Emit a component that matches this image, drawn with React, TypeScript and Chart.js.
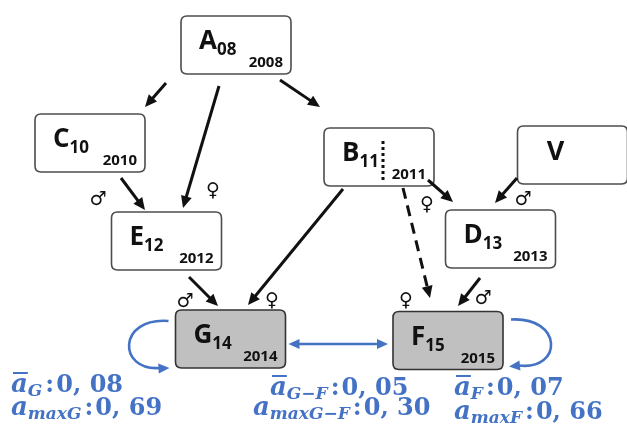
import React, { useEffect, useRef } from "react";
import { Chart, registerables } from "chart.js";

Chart.register(...registerables);

// ---- Data ----
const NODE_NAMES = ["A", "C", "E", "B", "V", "D", "G", "F"];
const NODE_SUBS = ["08", "10", "12", "11", "", "13", "14", "15"];
const NODE_YEARS = ["2008", "2010", "2012", "2011", "", "2013", "2014", "2015"];
const NODE_SHADED = [false, false, false, false, false, false, true, true];
// node centres in diagram units (x right, y down)
const NODE_X = [236, 90, 166.5, 379, 572.5, 500.5, 230.5, 448];
const NODE_Y = [45, 143, 241, 157, 155, 239, 339, 340.5];

// edges: x1, y1, x2 (tip), y2 (tip)
const EDGE_X1 = [166, 219, 280, 121, 343, 189, 428, 517, 403, 480];
const EDGE_Y1 = [83, 86, 80, 178, 189, 277, 180, 178, 188, 278];
const EDGE_X2 = [145, 183, 320, 145, 248, 218, 453, 495, 430, 458];
const EDGE_Y2 = [107, 208, 107, 210, 305, 306, 202, 203, 298, 306];
const EDGE_DASHED = [false, false, false, false, false, false, false, false, true, false];

const MALE_X = [98, 523, 185, 483];
const MALE_Y = [200, 200, 302, 299];
const FEMALE_X = [213, 427, 272, 406];
const FEMALE_Y = [191, 205, 301, 301];

const STAT_LABELS = ["G", "G\u2212F", "F"];
const MEAN_VALUES = ["0, 08", "0, 05", "0, 07"];
const MAX_VALUES = ["0, 69", "0, 30", "0, 66"];
const MEAN_X = [11, 270, 454];
const MEAN_Y = [392, 395, 395];
const MAX_X = [11, 253, 454];
const MAX_Y = [415, 415, 419];

const BLUE = "#4472c4";

function arrowHead(ctx: CanvasRenderingContext2D, tx: number, ty: number, dx: number, dy: number, len: number, w: number, color: string) {
  const d = Math.hypot(dx, dy) || 1;
  const ux = dx / d, uy = dy / d;
  const bx = tx - ux * len, by = ty - uy * len;
  ctx.save();
  ctx.setLineDash([]);
  ctx.fillStyle = color;
  ctx.beginPath();
  ctx.moveTo(tx, ty);
  ctx.lineTo(bx - uy * w / 2, by + ux * w / 2);
  ctx.lineTo(bx + uy * w / 2, by - ux * w / 2);
  ctx.closePath();
  ctx.fill();
  ctx.restore();
}

function arrow(ctx: CanvasRenderingContext2D, x1: number, y1: number, x2: number, y2: number, color: string, lw: number, dashed: boolean, len: number, w: number, both = false) {
  const dx = x2 - x1, dy = y2 - y1;
  const d = Math.hypot(dx, dy) || 1;
  const ux = dx / d, uy = dy / d;
  const sx = both ? x1 + ux * len * 0.8 : x1;
  const sy = both ? y1 + uy * len * 0.8 : y1;
  ctx.save();
  ctx.strokeStyle = color;
  ctx.lineWidth = lw;
  ctx.lineCap = "butt";
  ctx.setLineDash(dashed ? [11, 7] : []);
  ctx.beginPath();
  ctx.moveTo(sx, sy);
  ctx.lineTo(x2 - ux * len * 0.8, y2 - uy * len * 0.8);
  ctx.stroke();
  ctx.restore();
  arrowHead(ctx, x2, y2, dx, dy, len, w, color);
  if (both) arrowHead(ctx, x1, y1, -dx, -dy, len, w, color);
}

function roundRect(ctx: CanvasRenderingContext2D, x: number, y: number, w: number, h: number, r: number) {
  ctx.beginPath();
  ctx.moveTo(x + r, y);
  ctx.lineTo(x + w - r, y);
  ctx.quadraticCurveTo(x + w, y, x + w, y + r);
  ctx.lineTo(x + w, y + h - r);
  ctx.quadraticCurveTo(x + w, y + h, x + w - r, y + h);
  ctx.lineTo(x + r, y + h);
  ctx.quadraticCurveTo(x, y + h, x, y + h - r);
  ctx.lineTo(x, y + r);
  ctx.quadraticCurveTo(x, y, x + r, y);
  ctx.closePath();
}

const BOX_W = 110;
const BOX_H = 58;

const diagramPlugin = {
  id: "diagram",
  afterDatasetsDraw(chart: any) {
    const ctx: CanvasRenderingContext2D = chart.ctx;
    const xs = chart.scales.x, ys = chart.scales.y;
    const px = (v: number) => xs.getPixelForValue(v);
    const py = (v: number) => ys.getPixelForValue(v);
    const sx = Math.abs(px(1) - px(0));
    const sy = Math.abs(py(1) - py(0));

    // boxes
    NODE_NAMES.forEach((name, i) => {
      const w = BOX_W * sx, h = BOX_H * sy;
      const left = px(NODE_X[i]) - w / 2;
      const top = py(NODE_Y[i]) - h / 2;
      ctx.save();
      roundRect(ctx, left, top, w, h, 6);
      ctx.fillStyle = NODE_SHADED[i] ? "#c0c0c0" : "#ffffff";
      ctx.fill();
      ctx.strokeStyle = NODE_SHADED[i] ? "#333333" : "#4d4d4d";
      ctx.lineWidth = 1.6;
      ctx.stroke();
      ctx.fillStyle = "#111111";
      ctx.textBaseline = "alphabetic";
      ctx.textAlign = "left";
      if (name === "V") {
        ctx.font = 'bold 27px "Open Sans"';
        ctx.textAlign = "center";
        ctx.fillText(name, left + 38, top + 34);
      } else {
        ctx.font = 'bold 26px "Open Sans"';
        const lx = left + 18;
        const by = top + 33;
        ctx.fillText(name, lx, by);
        const lw = ctx.measureText(name).width;
        ctx.font = 'bold 17px "Open Sans"';
        ctx.fillText(NODE_SUBS[i], lx + lw, by + 6);
        ctx.font = 'bold 15px "Open Sans"';
        ctx.textAlign = "right";
        ctx.fillText(NODE_YEARS[i], left + w - 8, top + h - 7);
      }
      if (name === "B") {
        ctx.strokeStyle = "#111111";
        ctx.lineWidth = 3;
        ctx.setLineDash([3, 3]);
        ctx.beginPath();
        ctx.moveTo(left + 59, top + 13);
        ctx.lineTo(left + 59, top + 52);
        ctx.stroke();
      }
      ctx.restore();
    });

    // black edges
    EDGE_X1.forEach((_, i) => {
      arrow(ctx, px(EDGE_X1[i]), py(EDGE_Y1[i]), px(EDGE_X2[i]), py(EDGE_Y2[i]), "#111111", 3, EDGE_DASHED[i], 12, 11);
    });

    // sex symbols
    ctx.save();
    ctx.fillStyle = "#111111";
    ctx.font = 'bold 19px "DejaVu Sans"';
    ctx.textAlign = "center";
    ctx.textBaseline = "middle";
    MALE_X.forEach((mx, i) => ctx.fillText("\u2642", px(mx), py(MALE_Y[i])));
    FEMALE_X.forEach((fx, i) => ctx.fillText("\u2640", px(fx), py(FEMALE_Y[i])));
    ctx.restore();

    // blue arrows
    const gi = NODE_NAMES.indexOf("G"), fi = NODE_NAMES.indexOf("F");
    const gL = px(NODE_X[gi] - BOX_W / 2), gR = px(NODE_X[gi] + BOX_W / 2), gC = py(NODE_Y[gi]);
    const fL = px(NODE_X[fi] - BOX_W / 2), fR = px(NODE_X[fi] + BOX_W / 2), fC = py(NODE_Y[fi]);
    arrow(ctx, gR + 3, gC + 5, fL - 5, gC + 5, BLUE, 2.5, false, 11, 10, true);

    ctx.save();
    ctx.strokeStyle = BLUE;
    ctx.lineWidth = 2.6;
    ctx.beginPath();
    ctx.moveTo(gL - 7, gC - 18);
    ctx.bezierCurveTo(gL - 58, gC - 22, gL - 58, gC + 32, gL - 16, gC + 29);
    ctx.stroke();
    ctx.beginPath();
    ctx.moveTo(fR + 8, fC - 21);
    ctx.bezierCurveTo(fR + 60, fC - 24, fR + 60, fC + 30, fR + 16, fC + 25);
    ctx.stroke();
    ctx.restore();
    arrowHead(ctx, gL - 6, gC + 29, 1, -0.05, 11, 10, BLUE);
    arrowHead(ctx, fR + 6, fC + 26, -1, 0.1, 11, 10, BLUE);

    // statistics text
    const drawStat = (x: number, base: number, bar: boolean, sub: string, val: string) => {
      ctx.save();
      ctx.fillStyle = BLUE;
      ctx.strokeStyle = BLUE;
      ctx.textAlign = "left";
      ctx.textBaseline = "alphabetic";
      ctx.font = 'bold italic 26px "DejaVu Serif"';
      ctx.fillText("a", x, base);
      const aw = ctx.measureText("a").width;
      if (bar) {
        ctx.lineWidth = 2;
        ctx.beginPath();
        ctx.moveTo(x + 2, base - 19);
        ctx.lineTo(x + aw, base - 19);
        ctx.stroke();
      }
      ctx.font = 'bold italic 17px "DejaVu Serif"';
      ctx.fillText(sub, x + aw, base + 4);
      const sw = ctx.measureText(sub).width;
      ctx.font = 'bold 24px "DejaVu Serif"';
      ctx.fillText(":", x + aw + sw + 3, base);
      const cw = ctx.measureText(":").width;
      ctx.fillText(val, x + aw + sw + cw + 5, base);
      ctx.restore();
    };
    STAT_LABELS.forEach((lab, i) => {
      drawStat(px(MEAN_X[i]), py(MEAN_Y[i]), true, lab, MEAN_VALUES[i]);
      const maxLab = "max" + lab;
      drawStat(px(MAX_X[i]), py(MAX_Y[i]), false, maxLab, MAX_VALUES[i]);
    });
  },
};

export default function App() {
  const ref = useRef<HTMLCanvasElement | null>(null);
  useEffect(() => {
    if (!ref.current) return;
    const chart = new Chart(ref.current, {
      type: "scatter",
      data: {
        datasets: [
          {
            data: NODE_X.map((x, i) => ({ x, y: NODE_Y[i] })),
            pointRadius: 0,
            showLine: false,
          },
        ],
      },
      options: {
        animation: false,
        responsive: false,
        layout: { padding: 0 },
        plugins: { legend: { display: false }, tooltip: { enabled: false } },
        scales: {
          x: { type: "linear", min: 0, max: 627, display: false },
          y: { type: "linear", min: 0, max: 435, reverse: true, display: false },
        },
      },
      plugins: [diagramPlugin],
    });
    return () => chart.destroy();
  }, []);
  return (
    <div style={{ position: "fixed", left: 0, top: 0, width: 627, height: 435, background: "#fff" }}>
      <canvas ref={ref} width={627} height={435} style={{ display: "block", width: 627, height: 435 }} />
    </div>
  );
}
